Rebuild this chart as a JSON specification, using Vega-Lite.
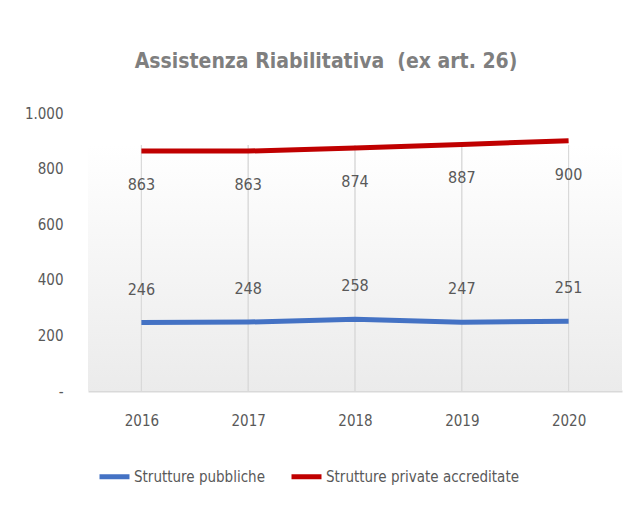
{
  "$schema": "https://vega.github.io/schema/vega-lite/v6.json",
  "width": 534,
  "height": 278,
  "autosize": {"type": "none"},
  "padding": {"left": 88, "top": 113, "right": 9, "bottom": 116},
  "background": "white",
  "config": {
    "view": {"stroke": null},
    "font": "DejaVu Sans Condensed, DejaVu Sans, sans-serif",
    "text": {"font": "DejaVu Sans Condensed, DejaVu Sans, sans-serif"}
  },
  "title": {
    "text": "Assistenza Riabilitativa \u00a0(ex art. 26)",
    "fontSize": 21,
    "font": "DejaVu Sans Condensed, DejaVu Sans, sans-serif",
    "fontWeight": "bold",
    "color": "#7f7f7f",
    "anchor": "middle",
    "dx": -29,
    "offset": 34
  },
  "data": {
    "values": [
      {"year": "2016", "series": "Strutture pubbliche", "value": 246},
      {"year": "2017", "series": "Strutture pubbliche", "value": 248},
      {"year": "2018", "series": "Strutture pubbliche", "value": 258},
      {"year": "2019", "series": "Strutture pubbliche", "value": 247},
      {"year": "2020", "series": "Strutture pubbliche", "value": 251},
      {"year": "2016", "series": "Strutture private accreditate", "value": 863},
      {"year": "2017", "series": "Strutture private accreditate", "value": 863},
      {"year": "2018", "series": "Strutture private accreditate", "value": 874},
      {"year": "2019", "series": "Strutture private accreditate", "value": 887},
      {"year": "2020", "series": "Strutture private accreditate", "value": 900}
    ]
  },
  "encoding": {
    "x": {
      "field": "year",
      "type": "ordinal",
      "scale": {"type": "point", "padding": 0.5},
      "axis": {
        "title": null,
        "labelAngle": 0,
        "ticks": false,
        "grid": false,
        "domainColor": "#d9d9d9",
        "domainWidth": 2,
        "labelPadding": 22,
        "labelFontSize": 15,
        "labelColor": "#595959"
      }
    }
  },
  "layer": [
    {
      "data": {"values": [{}]},
      "mark": {
        "type": "rect",
        "color": {
          "gradient": "linear",
          "x1": 0, "y1": 0, "x2": 0, "y2": 1,
          "stops": [
            {"offset": 0, "color": "#ffffff"},
            {"offset": 1, "color": "#ebebeb"}
          ]
        }
      },
      "encoding": {
        "x": null,
        "y": {"datum": 0, "type": "quantitative"},
        "y2": {"datum": 885}
      }
    },
    {
      "mark": {"type": "rule", "color": "#d9d9d9", "strokeWidth": 1},
      "encoding": {
        "y": {"datum": 0, "type": "quantitative"},
        "y2": {"datum": 885}
      }
    },
    {
      "mark": {"type": "line", "strokeWidth": 5},
      "encoding": {
        "y": {
          "field": "value",
          "type": "quantitative",
          "scale": {"domain": [0, 1000], "nice": false},
          "axis": {
            "title": null,
            "values": [0, 200, 400, 600, 800, 1000],
            "labelExpr": "datum.value == 0 ? '-\u00a0\u00a0\u00a0' : replace(format(datum.value, ','), ',', '.')",
            "domain": false,
            "ticks": false,
            "grid": false,
            "labelPadding": 25,
            "labelFontSize": 15,
            "labelColor": "#595959"
          }
        },
        "color": {
          "field": "series",
          "type": "nominal",
          "scale": {
            "domain": ["Strutture pubbliche", "Strutture private accreditate"],
            "range": ["#4472C4", "#C00000"]
          },
          "legend": {
            "title": null,
            "orient": "none",
            "legendX": 9,
            "legendY": 346,
            "direction": "horizontal",
            "symbolType": "stroke",
            "symbolStrokeWidth": 5,
            "symbolSize": 900,
            "labelFontSize": 15,
            "labelColor": "#595959",
            "labelLimit": 400,
            "labelOffset": 2,
            "columnPadding": 16
          }
        }
      }
    },
    {
      "transform": [{"filter": "datum.series == 'Strutture private accreditate'"}],
      "mark": {"type": "text", "dy": 34, "fontSize": 16, "color": "#595959", "baseline": "middle"},
      "encoding": {
        "y": {"field": "value", "type": "quantitative"},
        "text": {"field": "value", "type": "quantitative"}
      }
    },
    {
      "transform": [{"filter": "datum.series == 'Strutture pubbliche'"}],
      "mark": {"type": "text", "dy": -33, "fontSize": 16, "color": "#595959", "baseline": "middle"},
      "encoding": {
        "y": {"field": "value", "type": "quantitative"},
        "text": {"field": "value", "type": "quantitative"}
      }
    }
  ]
}
